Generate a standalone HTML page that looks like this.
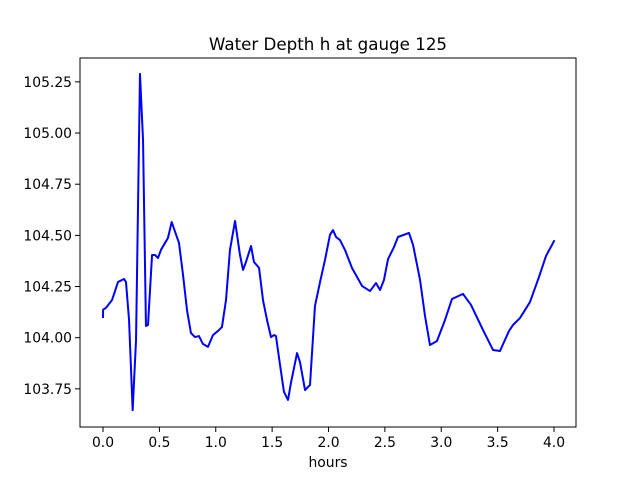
<!DOCTYPE html>
<html><head><meta charset="utf-8"><style>
html,body{margin:0;padding:0;background:#fff;}
svg{display:block;font-family:"DejaVu Sans","Liberation Sans",sans-serif;}
</style></head><body>
<svg id="chart" width="640" height="480" viewBox="0 0 640 480">
<rect width="640" height="480" fill="#fff"/>
<text x="328" y="50" text-anchor="middle" font-size="16.7" fill="#000">Water Depth h at gauge 125</text>
<g id="axes"></g>
<text x="328" y="467" text-anchor="middle" font-size="13.9" fill="#000">hours</text>
</svg>
<script>
const hours=[0.0,0.001,0.027,0.080,0.133,0.186,0.204,0.231,0.263,0.293,0.328,0.355,0.381,0.399,0.417,0.435,0.461,0.488,0.514,0.550,0.576,0.609,0.674,0.710,0.745,0.780,0.816,0.851,0.887,0.931,0.976,1.020,1.055,1.091,1.126,1.171,1.215,1.242,1.268,1.313,1.339,1.384,1.419,1.455,1.490,1.517,1.534,1.570,1.605,1.641,1.667,1.721,1.747,1.792,1.836,1.880,1.925,1.969,2.013,2.040,2.067,2.102,2.146,2.208,2.297,2.368,2.421,2.457,2.492,2.528,2.581,2.616,2.714,2.750,2.812,2.856,2.900,2.962,3.033,3.095,3.193,3.264,3.370,3.459,3.521,3.601,3.636,3.698,3.787,3.867,3.929,4.0];
const depth=[104.101,104.137,104.146,104.184,104.272,104.287,104.272,104.086,103.646,103.989,105.289,104.966,104.057,104.062,104.233,104.404,104.404,104.389,104.429,104.463,104.487,104.565,104.463,104.306,104.135,104.023,104.003,104.008,103.969,103.955,104.013,104.033,104.052,104.184,104.429,104.570,104.404,104.331,104.370,104.448,104.370,104.341,104.184,104.086,104.003,104.013,104.008,103.867,103.735,103.696,103.779,103.925,103.881,103.744,103.769,104.155,104.272,104.380,104.502,104.526,104.492,104.477,104.429,104.341,104.253,104.228,104.267,104.233,104.282,104.384,104.443,104.492,104.512,104.453,104.282,104.106,103.964,103.984,104.086,104.189,104.214,104.160,104.038,103.940,103.935,104.033,104.062,104.096,104.174,104.297,104.399,104.472];
const xTicks=[0.0,0.5,1.0,1.5,2.0,2.5,3.0,3.5,4.0];
const yTicks=[103.75,104.00,104.25,104.50,104.75,105.00,105.25];
const L=80,R=576,T=58,B=427;
function xs(v){return 103+v*112.75;}
function ys(v){return 337.7-(v-104)*204.67;}
const NS="http://www.w3.org/2000/svg";
const g=document.getElementById('axes');
function mk(tag,attrs){const e=document.createElementNS(NS,tag);for(const k in attrs)e.setAttribute(k,attrs[k]);g.appendChild(e);return e;}
// line
let d=hours.map((h,i)=>(i?'L':'M')+xs(h).toFixed(2)+' '+ys(depth[i]).toFixed(2)).join(' ');
const line=mk('path',{d:d,fill:'none',stroke:'#0000ff','stroke-width':'2','stroke-linejoin':'round','stroke-linecap':'square'});


// frame
const fr=mk('rect',{x:L,y:T,width:R-L,height:B-T,fill:'none',stroke:'#000','stroke-width':'1'});


xTicks.forEach(v=>{
  const x=xs(v);
  const t=mk('line',{x1:x,x2:x,y1:B,y2:B+5,stroke:'#000','stroke-width':'1'});
  
  
  const lb=mk('text',{x:x,y:B+20,'text-anchor':'middle','font-size':'13.9',fill:'#000'});
  lb.textContent=v.toFixed(1);
  
  
});
yTicks.forEach(v=>{
  const y=ys(v);
  const t=mk('line',{x1:L-5,x2:L,y1:y,y2:y,stroke:'#000','stroke-width':'1'});
  
  
  const lb=mk('text',{x:L-8,y:y+5,'text-anchor':'end','font-size':'13.9',fill:'#000'});
  lb.textContent=v.toFixed(2);
  
  
});
</script>
</body></html>
